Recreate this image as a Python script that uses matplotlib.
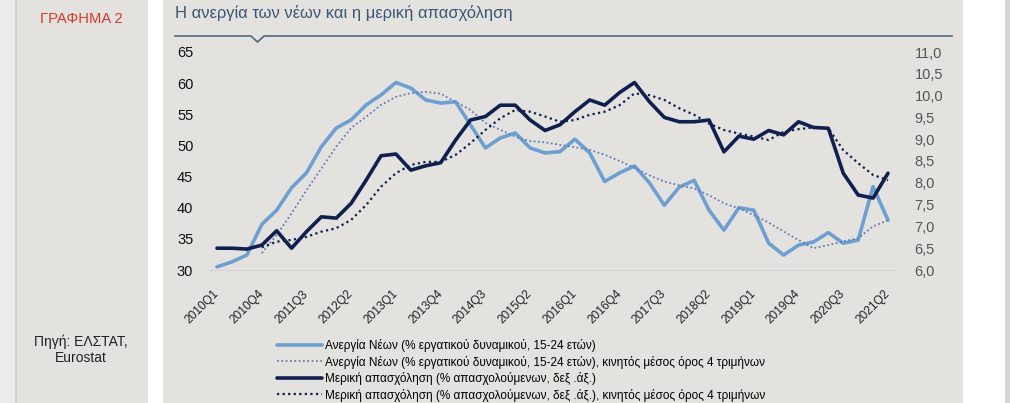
import matplotlib
matplotlib.use("Agg")

import matplotlib.pyplot as plt
import numpy as np
from matplotlib.lines import Line2D
from matplotlib.patches import Rectangle

plt.rcParams["font.family"] = ["Liberation Sans", "DejaVu Sans"]

W, H = 1010, 403

# ── Data ─────────────────────────────────────────────────────────────────────

quarters = [f"{y}Q{q}" for y in range(2010, 2022) for q in range(1, 5)][:46]

# Youth unemployment (% of labour force, 15-24) – left axis
youth = [30.5, 31.3, 32.4, 37.3, 39.6, 43.2, 45.6, 49.8, 52.8, 54.1,
         56.5, 58.1, 60.1, 59.2, 57.3, 56.8, 57.0, 53.3, 49.6, 51.2,
         52.0, 49.6, 48.8, 49.0, 51.0, 48.8, 44.2, 45.6, 46.7, 44.0,
         40.4, 43.3, 44.4, 39.6, 36.4, 40.0, 39.6, 34.3, 32.4, 34.0,
         34.5, 36.0, 34.3, 34.8, 43.4, 38.0]

# 4-quarter moving average of the above
youth_ma = [None, None, None, 32.7, 35.6, 39.1, 42.8, 46.3, 49.8, 52.8,
            54.6, 56.5, 57.8, 58.4, 58.6, 58.3, 57.0, 55.7, 53.6, 52.5,
            51.4, 50.7, 50.5, 50.1, 49.7, 49.3, 48.5, 47.5, 46.4, 45.2,
            44.2, 43.6, 43.1, 42.0, 40.7, 39.9, 38.8, 37.6, 36.2, 34.8,
            33.5, 34.0, 34.6, 35.1, 37.0, 38.0]

# Part-time employment (% of employed) – right axis
parttime = [6.50, 6.50, 6.48, 6.57, 6.90, 6.50, 6.88, 7.22, 7.19, 7.53,
            8.06, 8.62, 8.66, 8.29, 8.39, 8.46, 8.98, 9.44, 9.52, 9.78,
            9.78, 9.44, 9.20, 9.33, 9.63, 9.90, 9.78, 10.07, 10.30, 9.86,
            9.50, 9.40, 9.40, 9.44, 8.71, 9.07, 9.00, 9.20, 9.10, 9.40,
            9.27, 9.25, 8.22, 7.72, 7.65, 8.22]

parttime_ma = [None, None, None, 6.52, 6.65, 6.69, 6.76, 6.88, 6.96, 7.15,
               7.49, 7.91, 8.22, 8.41, 8.48, 8.48, 8.64, 8.91, 9.21, 9.48,
               9.67, 9.63, 9.52, 9.40, 9.44, 9.56, 9.63, 9.78, 10.05, 10.01,
               9.90, 9.71, 9.56, 9.36, 9.21, 9.13, 9.06, 8.98, 9.17, 9.23,
               9.27, 9.25, 8.75, 8.45, 8.18, 8.06]

labels = [
    "Ανεργία Νέων (% εργατικού δυναμικού, 15-24 ετών)",
    "Ανεργία Νέων (% εργατικού δυναμικού, 15-24 ετών), κινητός μέσος όρος 4 τριμήνων",
    "Μερική απασχόληση (% απασχολούμενων, δεξ .άξ.)",
    "Μερική απασχόληση (% απασχολούμενων, δεξ .άξ.), κινητός μέσος όρος 4 τριμήνων",
]

LIGHT = "#6e9fd1"
LIGHT_DOT = "#5f7fb6"
NAVY = "#0f1f4f"
PANEL = "#e4e2de"


def fx(x):
    return x / W


def fy(y):
    return 1 - y / H


fig = plt.figure(figsize=(W / 100, H / 100), dpi=100, facecolor="white")

# ── Panel backgrounds ────────────────────────────────────────────────────────
for x0, x1, c in [(0, 15, "#ececeb"), (15, 17, "#d3d2cf"), (17, 148, PANEL),
                  (163, 963, PANEL), (1005, 1010, "#d6d6d6")]:
    fig.add_artist(Rectangle((fx(x0), 0), fx(x1 - x0), 1, transform=fig.transFigure,
                             facecolor=c, edgecolor="none", zorder=0))

fig.text(fx(40), fy(19), "ΓΡΑΦΗΜΑ 2", color="#d8372c", fontsize=10.6,
         ha="left", va="center")
fig.text(fx(81), fy(342), "Πηγή: ΕΛΣΤΑΤ,", fontsize=10, color="#222222",
         ha="center", va="center")
fig.text(fx(81), fy(358), "Eurostat", fontsize=10, color="#222222",
         ha="center", va="center")

fig.text(fx(175), fy(13), "Η ανεργία των νέων και η μερική απασχόληση",
         color="#3a5676", fontsize=11.9, ha="left", va="center")
fig.add_artist(Line2D([fx(175), fx(251), fx(257.5), fx(264), fx(952)],
                      [fy(36), fy(36), fy(42), fy(36), fy(36)],
                      transform=fig.transFigure, color="#4d6786", lw=1.2))

# ── Chart ────────────────────────────────────────────────────────────────────
ax = fig.add_axes([fx(210), fy(270), fx(685), 218 / H])
ax.set_facecolor("none")
x = np.arange(len(quarters))

l1, = ax.plot(x, youth, color=LIGHT, lw=2.6, solid_joinstyle="round",
              solid_capstyle="round", zorder=3)
l2, = ax.plot(x, np.array(youth_ma, dtype=float), color=LIGHT_DOT, lw=1.3,
              linestyle=(0, (1, 1.4)), zorder=3)

ax.set_xlim(-0.47, 45.47)
ax.set_ylim(30, 65)
ax.set_yticks(range(30, 66, 5))
ax.set_xticks(x[::3])
ax.set_xticklabels(quarters[::3], rotation=45, ha="right", va="center",
                   rotation_mode="anchor", fontsize=8.6, color="#222222")
ax.tick_params(axis="x", length=0, pad=16)
ax.tick_params(axis="y", length=0, pad=12, labelsize=10.5, labelcolor="#111111")
for s in ["top", "left", "right"]:
    ax.spines[s].set_visible(False)
ax.spines["bottom"].set_color("#d4d4d4")
ax.spines["bottom"].set_linewidth(0.8)

ax2 = ax.twinx()
l3, = ax2.plot(x, parttime, color=NAVY, lw=2.6, solid_joinstyle="round",
               solid_capstyle="round", zorder=4)
l4, = ax2.plot(x, np.array(parttime_ma, dtype=float), color=NAVY, lw=1.6,
               linestyle=(0, (1, 1.5)), zorder=4)
ax2.set_ylim(6, 11)
rticks = np.arange(6.0, 11.01, 0.5)
ax2.set_yticks(rticks)
ax2.set_yticklabels([f"{t:.1f}".replace(".", ",") for t in rticks])
ax2.tick_params(axis="y", length=0, pad=14, labelsize=10.5, labelcolor="#555555")
for s in ["top", "left", "right", "bottom"]:
    ax2.spines[s].set_visible(False)

fig.legend([l1, l2, l3, l4], labels, loc="upper left",
           bbox_to_anchor=(fx(277), fy(339)), frameon=False, fontsize=8.5,
           handlelength=3.8, handletextpad=0.25, labelspacing=0.3,
           borderpad=0, borderaxespad=0)

fig.savefig("out.png", dpi=100, facecolor="white")
